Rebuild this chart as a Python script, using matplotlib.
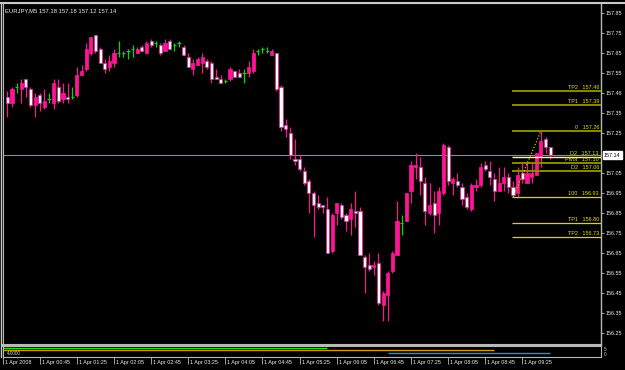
import numpy as np
import matplotlib
matplotlib.use('Agg')
import matplotlib.pyplot as plt
from matplotlib.transforms import blended_transform_factory, offset_copy

plt.rcParams['font.family'] = ['Liberation Sans', 'DejaVu Sans']

symbol = 'EURJPY,M5'

# M5 bars, oldest first
opens = [157.43, 157.40, 157.48, 157.47, 157.52, 157.47, 157.39, 157.44, 157.38, 157.42,
         157.40, 157.48, 157.42, 157.43, 157.43, 157.44, 157.54, 157.57, 157.65, 157.74,
         157.67, 157.60, 157.58, 157.60, 157.65, 157.65, 157.66, 157.67, 157.65, 157.68,
         157.65, 157.71, 157.70, 157.69, 157.66, 157.71, 157.69, 157.70, 157.68, 157.63,
         157.57, 157.59, 157.60, 157.61, 157.60, 157.53, 157.52, 157.51, 157.52, 157.56,
         157.55, 157.55, 157.55, 157.56, 157.66, 157.67, 157.66, 157.64, 157.65, 157.48,
         157.29, 157.25, 157.12, 157.12, 157.06, 157.01, 156.95, 156.90, 156.89, 156.87,
         156.66, 156.85, 156.89, 156.84, 156.82, 156.86, 156.86, 156.63, 156.59, 156.58,
         156.60, 156.39, 156.44, 156.56, 156.64, 156.80, 156.81, 156.96, 157.08, 157.08,
         157.00, 156.85, 156.90, 156.85, 156.95, 157.18, 157.00, 157.01, 156.98, 156.93,
         156.87, 156.98, 156.99, 157.09, 157.06, 157.02, 156.96, 157.00, 157.03, 156.98,
         156.95, 157.05, 157.00, 157.03, 157.04, 157.13, 157.22, 157.18]
highs = [157.46, 157.48, 157.50, 157.52, 157.52, 157.48, 157.45, 157.45, 157.47, 157.45,
         157.52, 157.52, 157.50, 157.50, 157.48, 157.58, 157.59, 157.70, 157.73, 157.74,
         157.68, 157.62, 157.64, 157.67, 157.71, 157.66, 157.67, 157.69, 157.68, 157.69,
         157.71, 157.72, 157.71, 157.70, 157.72, 157.72, 157.70, 157.71, 157.69, 157.65,
         157.62, 157.63, 157.65, 157.62, 157.61, 157.57, 157.54, 157.52, 157.58, 157.56,
         157.57, 157.57, 157.61, 157.67, 157.67, 157.68, 157.68, 157.67, 157.65, 157.49,
         157.32, 157.28, 157.22, 157.14, 157.08, 157.02, 156.96, 156.94, 156.89, 156.93,
         156.85, 156.90, 156.90, 156.85, 156.90, 156.96, 156.88, 156.64, 156.65, 156.61,
         156.65, 156.46, 156.56, 156.66, 156.91, 156.84, 156.95, 157.11, 157.15, 157.13,
         157.03, 157.00, 156.96, 156.98, 157.20, 157.19, 157.03, 157.05, 157.00, 156.95,
         157.00, 157.02, 157.10, 157.11, 157.11, 157.05, 157.08, 157.08, 157.05, 157.01,
         157.08, 157.10, 157.10, 157.10, 157.15, 157.26, 157.23, 157.18]
lows = [157.33, 157.38, 157.45, 157.40, 157.43, 157.38, 157.33, 157.36, 157.37, 157.40,
        157.37, 157.40, 157.40, 157.40, 157.42, 157.43, 157.54, 157.56, 157.64, 157.65,
        157.60, 157.55, 157.56, 157.58, 157.63, 157.63, 157.62, 157.63, 157.65, 157.66,
        157.65, 157.68, 157.68, 157.64, 157.66, 157.67, 157.66, 157.68, 157.64, 157.58,
        157.54, 157.59, 157.55, 157.57, 157.50, 157.52, 157.50, 157.50, 157.51, 157.53,
        157.53, 157.50, 157.53, 157.55, 157.64, 157.65, 157.65, 157.64, 157.46, 157.26,
        157.23, 157.12, 157.09, 157.06, 156.99, 156.85, 156.73, 156.87, 156.85, 156.65,
        156.65, 156.79, 156.82, 156.76, 156.74, 156.78, 156.64, 156.45, 156.56, 156.54,
        156.39, 156.31, 156.31, 156.55, 156.64, 156.74, 156.81, 156.90, 157.02, 156.94,
        156.79, 156.84, 156.75, 156.79, 156.94, 156.99, 156.94, 156.98, 156.89, 156.87,
        156.86, 156.96, 156.98, 157.06, 156.99, 156.91, 156.96, 156.96, 156.95, 156.93,
        156.93, 157.00, 157.00, 157.00, 157.04, 157.08, 157.15, 157.12]
closes = [157.40, 157.47, 157.48, 157.50, 157.48, 157.39, 157.43, 157.40, 157.41, 157.42,
          157.50, 157.41, 157.45, 157.42, 157.43, 157.54, 157.56, 157.67, 157.73, 157.66,
          157.60, 157.57, 157.61, 157.65, 157.65, 157.65, 157.66, 157.67, 157.67, 157.66,
          157.70, 157.69, 157.70, 157.65, 157.70, 157.67, 157.69, 157.70, 157.64, 157.58,
          157.60, 157.62, 157.63, 157.58, 157.52, 157.52, 157.50, 157.51, 157.57, 157.53,
          157.53, 157.55, 157.58, 157.65, 157.66, 157.67, 157.66, 157.66, 157.47, 157.28,
          157.27, 157.14, 157.11, 157.07, 157.00, 156.95, 156.89, 156.88, 156.88, 156.65,
          156.84, 156.90, 156.83, 156.81, 156.87, 156.85, 156.64, 156.58, 156.57, 156.59,
          156.40, 156.45, 156.55, 156.65, 156.81, 156.80, 156.95, 157.09, 157.09, 157.01,
          156.86, 156.89, 156.84, 156.96, 157.19, 157.01, 157.02, 156.99, 156.92, 156.88,
          156.99, 156.99, 157.08, 157.07, 157.03, 156.96, 157.00, 157.03, 156.98, 156.94,
          157.04, 157.02, 157.05, 157.05, 157.15, 157.21, 157.18, 157.14]

time_labels = ['1 Apr 2008', '1 Apr 00:45', '1 Apr 01:25', '1 Apr 02:05', '1 Apr 02:45',
               '1 Apr 03:25', '1 Apr 04:05', '1 Apr 04:45', '1 Apr 05:25', '1 Apr 06:05',
               '1 Apr 06:45', '1 Apr 07:25', '1 Apr 08:05', '1 Apr 08:45', '1 Apr 09:25']
time_bars = [7, 15, 23, 31, 39, 47, 55, 63, 71, 79, 87, 95, 103, 111]

price_ticks = [157.85, 157.75, 157.65, 157.55, 157.45, 157.35, 157.25, 157.05,
               156.95, 156.85, 156.75, 156.65, 156.55, 156.45, 156.35, 156.25]
price_labels = ['157.85', '157.75', '157.65', '157.55', '157.46', '157.35', '157.25', '157.05',
                '156.95', '156.85', '156.75', '156.65', '156.55', '156.45', '156.35', '156.25']

# fibo / target levels
level_names = ['TP2', 'TP1', '0', 'D2', 'Pivot', 'D2', '100', 'TP1', 'TP2']
level_prices = [157.46, 157.39, 157.26, 157.13, 157.10, 157.06, 156.93, 156.80, 156.73]
level_colors = ['#8a8a00', '#8a8a00', '#8a8a00', '#ffff90', '#8a8a00', '#8a8a00',
                '#d8d800', '#d8d800', '#d8d800']
level_widths = [1.4, 1.4, 1.4, 1.0, 1.4, 1.4, 0.9, 0.9, 0.9]
fib_bars = [109, 115]
fib_prices = [156.93, 157.26]

# indicator sub-window
ind_values = [4.2, 3.2, 1.8]
ind_start = [-1, -1, 82]
ind_end = [69, 105, 117]
ind_colors = ['#20e020', '#d09a10', '#1e90e0']

pink = '#ff1493'
lime = '#00e000'
gray = '#b8b8b8'

fig = plt.figure(figsize=(6.25, 3.7), dpi=100, facecolor='black')
W, H = 625.0, 370.0

# bar i sits at pixel 7.3 + 4.64*i
x0, x1 = 3.0, 601.0
xmin, xmax = (x0 - 7.3) / 4.64, (x1 - 7.3) / 4.64

ax = fig.add_axes([x0 / W, 1 - 345 / H, (x1 - x0) / W, (345 - 3) / H])
ax.set_facecolor('black')
ax.set_xlim(xmin, xmax)
ax.set_ylim(157.85 - 332 * 0.005, 157.85 + 10 * 0.005)

n = len(opens)
for i in range(n):
    o, h, l, c = opens[i], highs[i], lows[i], closes[i]
    if o == c:
        ax.vlines(i, l, h, color=lime, lw=0.85, zorder=2)
        ax.hlines(o, i - 0.35, i + 0.35, color=lime, lw=0.85, zorder=2)
    else:
        ax.vlines(i, l, h, color=pink, lw=0.85, zorder=2)
        face = pink if c > o else 'white'
        ax.bar(i, abs(c - o), width=0.68, bottom=min(o, c), color=face,
               edgecolor=pink, linewidth=0.55, zorder=3)

# bid line
ax.axhline(closes[-1], color='#8090a0', lw=0.8, zorder=1)

# levels
for name, p, col, lw in zip(level_names, level_prices, level_colors, level_widths):
    ax.hlines(p, fib_bars[0] - 0.2, xmax, color=col, lw=lw, zorder=4)
    tr = offset_copy(ax.transData, fig=fig, x=-2, y=1, units='dots')
    ax.text(xmax, p, f'{name}   {p:.2f}', transform=tr, ha='right', va='bottom',
            fontsize=4.0, color='#e0e000', zorder=5)
ax.plot(fib_bars, fib_prices, ls=(0, (1, 1.5)), color='#c8c800', lw=0.9, zorder=4)

# axes styling
for s in ['left', 'top', 'bottom', 'right']:
    ax.spines[s].set_color(gray)
ax.spines['bottom'].set_linewidth(1.5)
ax.spines['right'].set_linewidth(1.0)
ax.set_xticks([])
ax.yaxis.tick_right()
ax.set_yticks(price_ticks)
ax.set_yticklabels(price_labels)
ax.tick_params(axis='y', colors=gray, labelcolor='#eeeeee', labelsize=3.9,
               length=2, width=0.6, pad=1.5)

# current price box
tr = offset_copy(blended_transform_factory(ax.transAxes, ax.transData), fig=fig,
                 x=3, y=0, units='dots')
ax.text(1.0, closes[-1], f'{closes[-1]:.2f}', transform=tr, ha='left', va='center',
        fontsize=3.9, color='black', zorder=6,
        bbox=dict(boxstyle='square,pad=0.25', fc='white', ec='white'))

# title
ax.text(0.004, 0.985, f'{symbol} {opens[-1]:.2f} {highs[-1]:.2f} {lows[-1]:.2f} {closes[-1]:.2f}',
        transform=ax.transAxes, ha='left', va='top', fontsize=4.2, color='#eeeeee')

# indicator window
ax2 = fig.add_axes([x0 / W, 1 - 357 / H, (x1 - x0) / W, 11 / H])
ax2.set_facecolor('black')
ax2.set_xlim(xmin, xmax)
ax2.set_ylim(0, 5)
for v, a, b, col in zip(ind_values, ind_start, ind_end, ind_colors):
    ax2.hlines(v, a, b, color=col, lw=1.0)
for s in ['left', 'top', 'bottom', 'right']:
    ax2.spines[s].set_color(gray)
ax2.spines['top'].set_linewidth(1.5)
ax2.set_yticks([])
ax2.text(0.006, 0.3, '4.0000', transform=ax2.transAxes, ha='left', va='center',
         fontsize=3.3, color='#d8d8d8')
ax2.text(1.005, 0.7, '5', transform=ax2.transAxes, ha='left', va='center',
         fontsize=3.3, color='#d0d0d0')
ax2.text(1.005, 0.25, '0', transform=ax2.transAxes, ha='left', va='center',
         fontsize=3.3, color='#d0d0d0')

tick_pos = [xmin + 0.05] + time_bars
ax2.set_xticks(tick_pos)
ax2.set_xticklabels([])
ax2.tick_params(axis='x', colors=gray, length=5, width=0.6, direction='out')
ttr = offset_copy(blended_transform_factory(ax2.transData, fig.transFigure), fig=fig,
                  x=2, y=0, units='dots')
for pos, lab in zip(tick_pos, time_labels):
    ax2.text(pos, 1 - 362.5 / H, lab, transform=ttr, ha='left', va='center',
             fontsize=3.9, color='#eeeeee', clip_on=False)

# window frame
fig.add_artist(plt.Line2D([0, 1], [1 - 2.5 / H, 1 - 2.5 / H], transform=fig.transFigure,
                          color='#c8c8c8', lw=1.5))
fig.add_artist(plt.Line2D([1.5 / W, 1.5 / W], [1 - 357 / H, 1 - 2.5 / H],
                          transform=fig.transFigure, color='#c8c8c8', lw=1.0))

fig.savefig('out.png', dpi=100, facecolor='black')
